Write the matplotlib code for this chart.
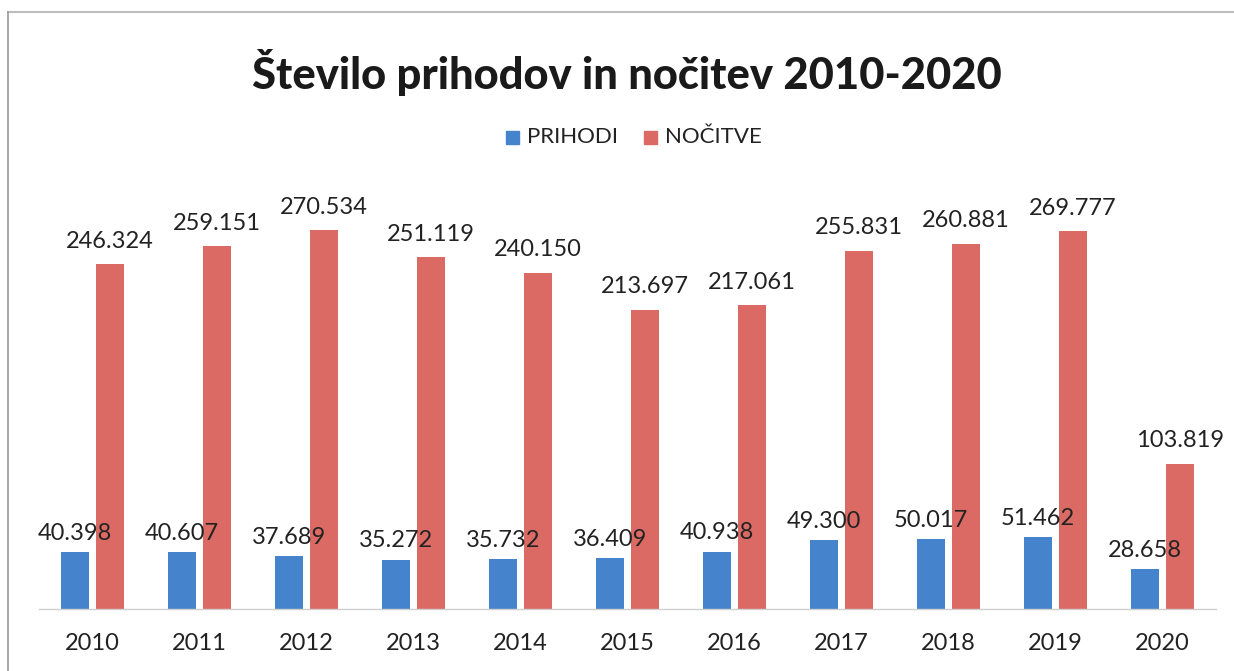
import matplotlib
matplotlib.use("Agg")
import matplotlib.pyplot as plt
from matplotlib.lines import Line2D
from matplotlib.patches import Rectangle
import numpy as np

years = ["2010", "2011", "2012", "2013", "2014", "2015", "2016", "2017", "2018", "2019", "2020"]
prihodi = [40398, 40607, 37689, 35272, 35732, 36409, 40938, 49300, 50017, 51462, 28658]
nocitve = [246324, 259151, 270534, 251119, 240150, 213697, 217061, 255831, 260881, 269777, 103819]
series_names = ["PRIHODI", "NOČITVE"]
colors = ["#4584cc", "#dc6a64"]

W, H = 1234, 671
fig = plt.figure(figsize=(W / 100, H / 100), dpi=100)
fig.patch.set_facecolor("white")

FONT = ["Lato", "DejaVu Sans"]

# axes placement in pixels
left_px, right_px = 39, 1216
base_px, top_px = 609, 189
ax = fig.add_axes([left_px / W, 1 - base_px / H, (right_px - left_px) / W, (base_px - top_px) / H])
ax.set_xlim(-0.5, len(years) - 0.5)
ax.set_ylim(0, 300000)

x = np.arange(len(years))
bw = 0.26
off = 0.165
ax.bar(x - off, prihodi, width=bw, color=colors[0], zorder=2)
ax.bar(x + off, nocitve, width=bw, color=colors[1], zorder=2)

def fmt(v):
    return f"{v:,}".replace(",", ".")

for xi, v in zip(x - off, prihodi):
    ax.annotate(fmt(v), (xi, v), xytext=(0, 6), textcoords="offset points",
                ha="center", va="bottom", fontsize=17, color="#222222", family=FONT)
for xi, v in zip(x + off, nocitve):
    ax.annotate(fmt(v), (xi, v), xytext=(0, 9), textcoords="offset points",
                ha="center", va="bottom", fontsize=17, color="#222222", family=FONT)

for s in ["top", "right", "left"]:
    ax.spines[s].set_visible(False)
ax.spines["bottom"].set_color("#d0d0d0")
ax.spines["bottom"].set_linewidth(1.0)
ax.set_yticks([])
ax.set_xticks(x)
ax.set_xticklabels(years, fontsize=17, color="#222222", family=FONT)
ax.tick_params(axis="x", length=0, pad=17)

# title
fig.text(627 / W, 1 - 72 / H, "Število prihodov in nočitev 2010-2020", ha="center", va="center",
         fontsize=31.3, fontweight="black", color="#1a1a1a", family=FONT)

# legend
leg_y = 1 - 137 / H
sq = 13
for (sx, tx, name, c) in [(506, 527, series_names[0], colors[0]), (644, 665, series_names[1], colors[1])]:
    fig.patches.append(Rectangle((sx / W, leg_y - (sq / 2) / H), sq / W, sq / H,
                                 transform=fig.transFigure, color=c, figure=fig))
    fig.text(tx / W, leg_y, name, ha="left", va="center", fontsize=16, color="#222222", family=FONT)

# frame lines of the scanned chart
fig.add_artist(Line2D([8 / W, 1], [1 - 12 / H, 1 - 12 / H], transform=fig.transFigure,
                      color="#bdbdbd", linewidth=1.5))
fig.add_artist(Line2D([8 / W, 8 / W], [0, 1 - 12 / H], transform=fig.transFigure,
                      color="#9a9a9a", linewidth=1.2))

fig.savefig("out.png", dpi=100, facecolor="white")
